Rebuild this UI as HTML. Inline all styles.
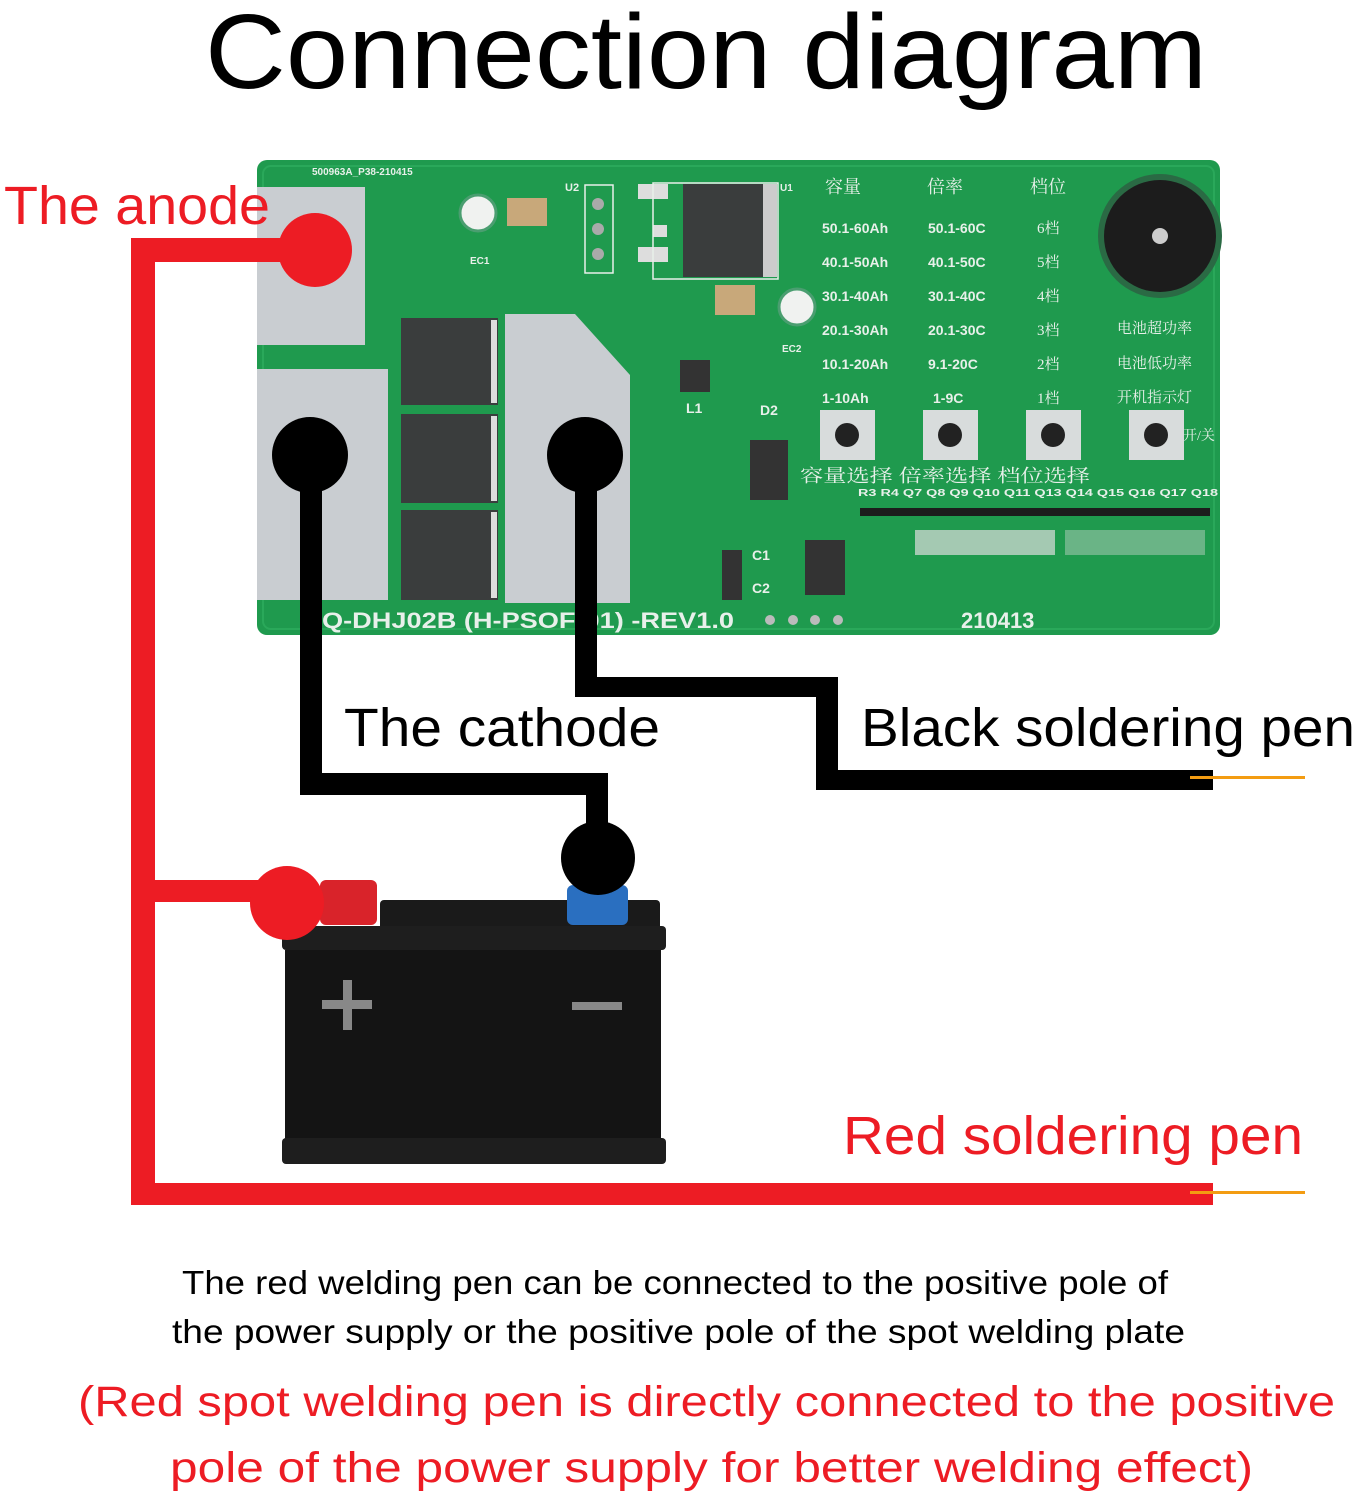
<!DOCTYPE html>
<html><head><meta charset="utf-8"><style>
html,body{margin:0;padding:0;background:#fff}
svg{display:block}
</style></head><body>
<svg width="1357" height="1496" viewBox="0 0 1357 1496" xmlns="http://www.w3.org/2000/svg">
<rect width="1357" height="1496" fill="#fff"/>
<text x="205" y="88" textLength="1002" lengthAdjust="spacingAndGlyphs" font-family="Liberation Sans, sans-serif" font-size="106" fill="#000">Connection diagram</text>

<!-- PCB -->
<rect x="257" y="160" width="963" height="475" rx="10" fill="#1f9a4e"/>
<rect x="263" y="166" width="951" height="463" rx="8" fill="none" stroke="#2aa85a" stroke-width="2"/>
<text x="312" y="175" font-family="Liberation Sans, sans-serif" font-size="10" font-weight="bold" fill="#e8f0ea">500963A_P38-210415</text>
<rect x="257" y="187" width="108" height="158" fill="#c9cdd1"/>
<rect x="257" y="369" width="131" height="231" fill="#c9cdd1"/>
<polygon points="505,314 575,314 630,375 630,603 505,603" fill="#c9cdd1"/>
<rect x="401" y="318" width="97" height="87" fill="#3a3d3d"/>
<rect x="401" y="414" width="97" height="89" fill="#3a3d3d"/>
<rect x="401" y="510" width="97" height="90" fill="#3a3d3d"/>
<rect x="491" y="320" width="6" height="83" fill="#ddd"/>
<rect x="491" y="416" width="6" height="85" fill="#ddd"/>
<rect x="491" y="512" width="6" height="86" fill="#ddd"/>
<circle cx="478" cy="213" r="18" fill="#f0f2f0" stroke="#4a9e70" stroke-width="3"/>
<rect x="507" y="198" width="40" height="28" fill="#c8a87a"/>
<text x="565" y="191" font-family="Liberation Sans, sans-serif" font-size="11" font-weight="bold" fill="#e8f0ea">U2</text>
<rect x="585" y="185" width="28" height="88" fill="none" stroke="#e8f0ea" stroke-width="1.5"/>
<circle cx="598" cy="204" r="6" fill="#aaa"/><circle cx="598" cy="229" r="6" fill="#aaa"/><circle cx="598" cy="254" r="6" fill="#aaa"/>
<rect x="638" y="184" width="30" height="15" fill="#ddd"/><rect x="638" y="247" width="30" height="15" fill="#ddd"/>
<rect x="653" y="225" width="14" height="12" fill="#ddd"/>
<rect x="653" y="183" width="125" height="96" fill="none" stroke="#e8f0ea" stroke-width="1.5"/>
<rect x="683" y="184" width="80" height="93" fill="#3a3d3d"/>
<rect x="763" y="184" width="14" height="93" fill="#ccc"/>
<text x="780" y="191" font-family="Liberation Sans, sans-serif" font-size="10" font-weight="bold" fill="#e8f0ea">U1</text>
<rect x="715" y="285" width="40" height="30" fill="#c8a87a"/>
<circle cx="797" cy="307" r="18" fill="#f0f2f0" stroke="#4a9e70" stroke-width="3"/>
<rect x="680" y="360" width="30" height="32" fill="#333"/>
<rect x="750" y="440" width="38" height="60" fill="#333"/>
<rect x="722" y="550" width="20" height="50" fill="#333"/>
<text x="470" y="264" font-family="Liberation Sans, sans-serif" font-size="10" font-weight="bold" fill="#e8f0ea">EC1</text>
<text x="782" y="352" font-family="Liberation Sans, sans-serif" font-size="10" font-weight="bold" fill="#e8f0ea">EC2</text>
<text x="686" y="413" font-family="Liberation Sans, sans-serif" font-size="14" font-weight="bold" fill="#e8f0ea">L1</text>
<text x="760" y="415" font-family="Liberation Sans, sans-serif" font-size="14" font-weight="bold" fill="#e8f0ea">D2</text>
<text x="752" y="560" font-family="Liberation Sans, sans-serif" font-size="14" font-weight="bold" fill="#e8f0ea">C1</text>
<text x="752" y="593" font-family="Liberation Sans, sans-serif" font-size="14" font-weight="bold" fill="#e8f0ea">C2</text>
<rect x="805" y="540" width="40" height="55" fill="#333"/>
<g font-family="Liberation Sans, sans-serif" font-weight="bold" font-size="14" fill="#e8f0ea">
<text x="822" y="233">50.1-60Ah</text><text x="822" y="267">40.1-50Ah</text><text x="822" y="301">30.1-40Ah</text><text x="822" y="335">20.1-30Ah</text><text x="822" y="369">10.1-20Ah</text><text x="822" y="403">1-10Ah</text>
<text x="928" y="233">50.1-60C</text><text x="928" y="267">40.1-50C</text><text x="928" y="301">30.1-40C</text><text x="928" y="335">20.1-30C</text><text x="928" y="369">9.1-20C</text><text x="933" y="403">1-9C</text>
<text x="961" y="628" font-size="22">210413</text>
<text x="322" y="628" font-size="22" textLength="412" lengthAdjust="spacingAndGlyphs">Q-DHJ02B (H-PSOF-01) -REV1.0</text>
</g>
<g font-family="Liberation Serif, 'Noto Serif CJK SC', serif" font-size="18" fill="#e8f0ea">
<text x="825" y="193">容量</text><text x="927" y="193">倍率</text><text x="1030" y="193">档位</text>
<text x="1037" y="233" font-size="15">6档</text><text x="1037" y="267" font-size="15">5档</text><text x="1037" y="301" font-size="15">4档</text><text x="1037" y="335" font-size="15">3档</text><text x="1037" y="369" font-size="15">2档</text><text x="1037" y="403" font-size="15">1档</text>
<text x="1117" y="333" font-size="15">电池超功率</text><text x="1117" y="368" font-size="15">电池低功率</text><text x="1117" y="402" font-size="15">开机指示灯</text>
<text x="1183" y="440" font-size="14">开/关</text>
<text x="800" y="482" textLength="290" lengthAdjust="spacingAndGlyphs">容量选择 倍率选择 档位选择</text>
</g>
<circle cx="1160" cy="236" r="62" fill="#2a6a44"/>
<circle cx="1160" cy="236" r="56" fill="#1c1c1c"/><circle cx="1160" cy="236" r="8" fill="#ccc"/>
<g fill="#d8dcdc">
<rect x="820" y="410" width="55" height="50"/><rect x="923" y="410" width="55" height="50"/><rect x="1026" y="410" width="55" height="50"/><rect x="1129" y="410" width="55" height="50"/>
</g>
<g fill="#222"><circle cx="847" cy="435" r="12"/><circle cx="950" cy="435" r="12"/><circle cx="1053" cy="435" r="12"/><circle cx="1156" cy="435" r="12"/></g>
<rect x="860" y="508" width="350" height="8" fill="#1c1c1c"/>
<g font-family="Liberation Sans, sans-serif" font-size="10" font-weight="bold" fill="#e8f0ea"><text x="858" y="496" textLength="360" lengthAdjust="spacingAndGlyphs">R3 R4 Q7  Q8   Q9  Q10 Q11 Q13 Q14 Q15 Q16 Q17 Q18</text></g>
<rect x="915" y="530" width="140" height="25" fill="#ddd" opacity=".7"/>
<rect x="1065" y="530" width="140" height="25" fill="#ddd" opacity=".4"/>
<circle cx="770" cy="620" r="5" fill="#bbb"/><circle cx="793" cy="620" r="5" fill="#bbb"/><circle cx="815" cy="620" r="5" fill="#bbb"/><circle cx="838" cy="620" r="5" fill="#bbb"/>

<!-- red wires -->
<g fill="#ed1c24">
<rect x="131" y="238" width="24" height="967"/>
<rect x="131" y="238" width="184" height="24"/>
<rect x="131" y="880" width="156" height="22"/>
<rect x="131" y="1183" width="1082" height="22"/>
<circle cx="315" cy="250" r="37"/>
</g>
<!-- black wires -->
<g fill="#000">
<rect x="300" y="455" width="22" height="340"/>
<rect x="300" y="773" width="308" height="22"/>
<rect x="586" y="773" width="22" height="85"/>
<rect x="575" y="455" width="22" height="242"/>
<rect x="575" y="677" width="263" height="20"/>
<rect x="816" y="677" width="22" height="113"/>
<rect x="816" y="770" width="397" height="20"/>
<circle cx="310" cy="455" r="38"/><circle cx="585" cy="455" r="38"/>
</g>
<rect x="1190" y="776" width="115" height="3" fill="#f39c12"/>
<rect x="1190" y="1191" width="115" height="3" fill="#f39c12"/>

<!-- battery -->
<rect x="380" y="900" width="280" height="32" rx="4" fill="#1a1a1a"/>
<rect x="282" y="926" width="384" height="24" rx="4" fill="#1e1e1e"/>
<rect x="285" y="950" width="376" height="190" fill="#141414"/>
<rect x="282" y="1138" width="384" height="26" rx="4" fill="#1e1e1e"/>
<rect x="320" y="880" width="57" height="45" rx="6" fill="#d9232a"/>
<rect x="567" y="885" width="61" height="40" rx="6" fill="#2a6fc0"/>
<rect x="322" y="1000" width="50" height="9" fill="#888"/><rect x="343" y="980" width="9" height="50" fill="#888"/>
<rect x="572" y="1002" width="50" height="8" fill="#888"/>
<circle cx="287" cy="903" r="37" fill="#ed1c24"/>
<circle cx="598" cy="858" r="37" fill="#000"/>

<!-- labels -->
<g font-family="Liberation Sans, sans-serif" lengthAdjust="spacingAndGlyphs">
<text x="4" y="224" font-size="54" fill="#ed1c24" textLength="266" lengthAdjust="spacingAndGlyphs">The anode</text>
<text x="344" y="746" font-size="54" fill="#000" textLength="316" lengthAdjust="spacingAndGlyphs">The cathode</text>
<text x="861" y="746" font-size="54" fill="#000" textLength="494" lengthAdjust="spacingAndGlyphs">Black soldering pen</text>
<text x="843" y="1154" font-size="54" fill="#ed1c24" textLength="460" lengthAdjust="spacingAndGlyphs">Red soldering pen</text>
<text x="182" y="1294" font-size="33" fill="#000" textLength="986" lengthAdjust="spacingAndGlyphs">The red welding pen can be connected to the positive pole of</text>
<text x="172" y="1343" font-size="33" fill="#000" textLength="1013" lengthAdjust="spacingAndGlyphs">the power supply or the positive pole of the spot welding plate</text>
<text x="78" y="1416" font-size="43" fill="#ed1c24" textLength="1257" lengthAdjust="spacingAndGlyphs">(Red spot welding pen is directly connected to the positive</text>
<text x="170" y="1482" font-size="43" fill="#ed1c24" textLength="1083" lengthAdjust="spacingAndGlyphs">pole of the power supply for better welding effect)</text>
</g>
</svg>
</body></html>
